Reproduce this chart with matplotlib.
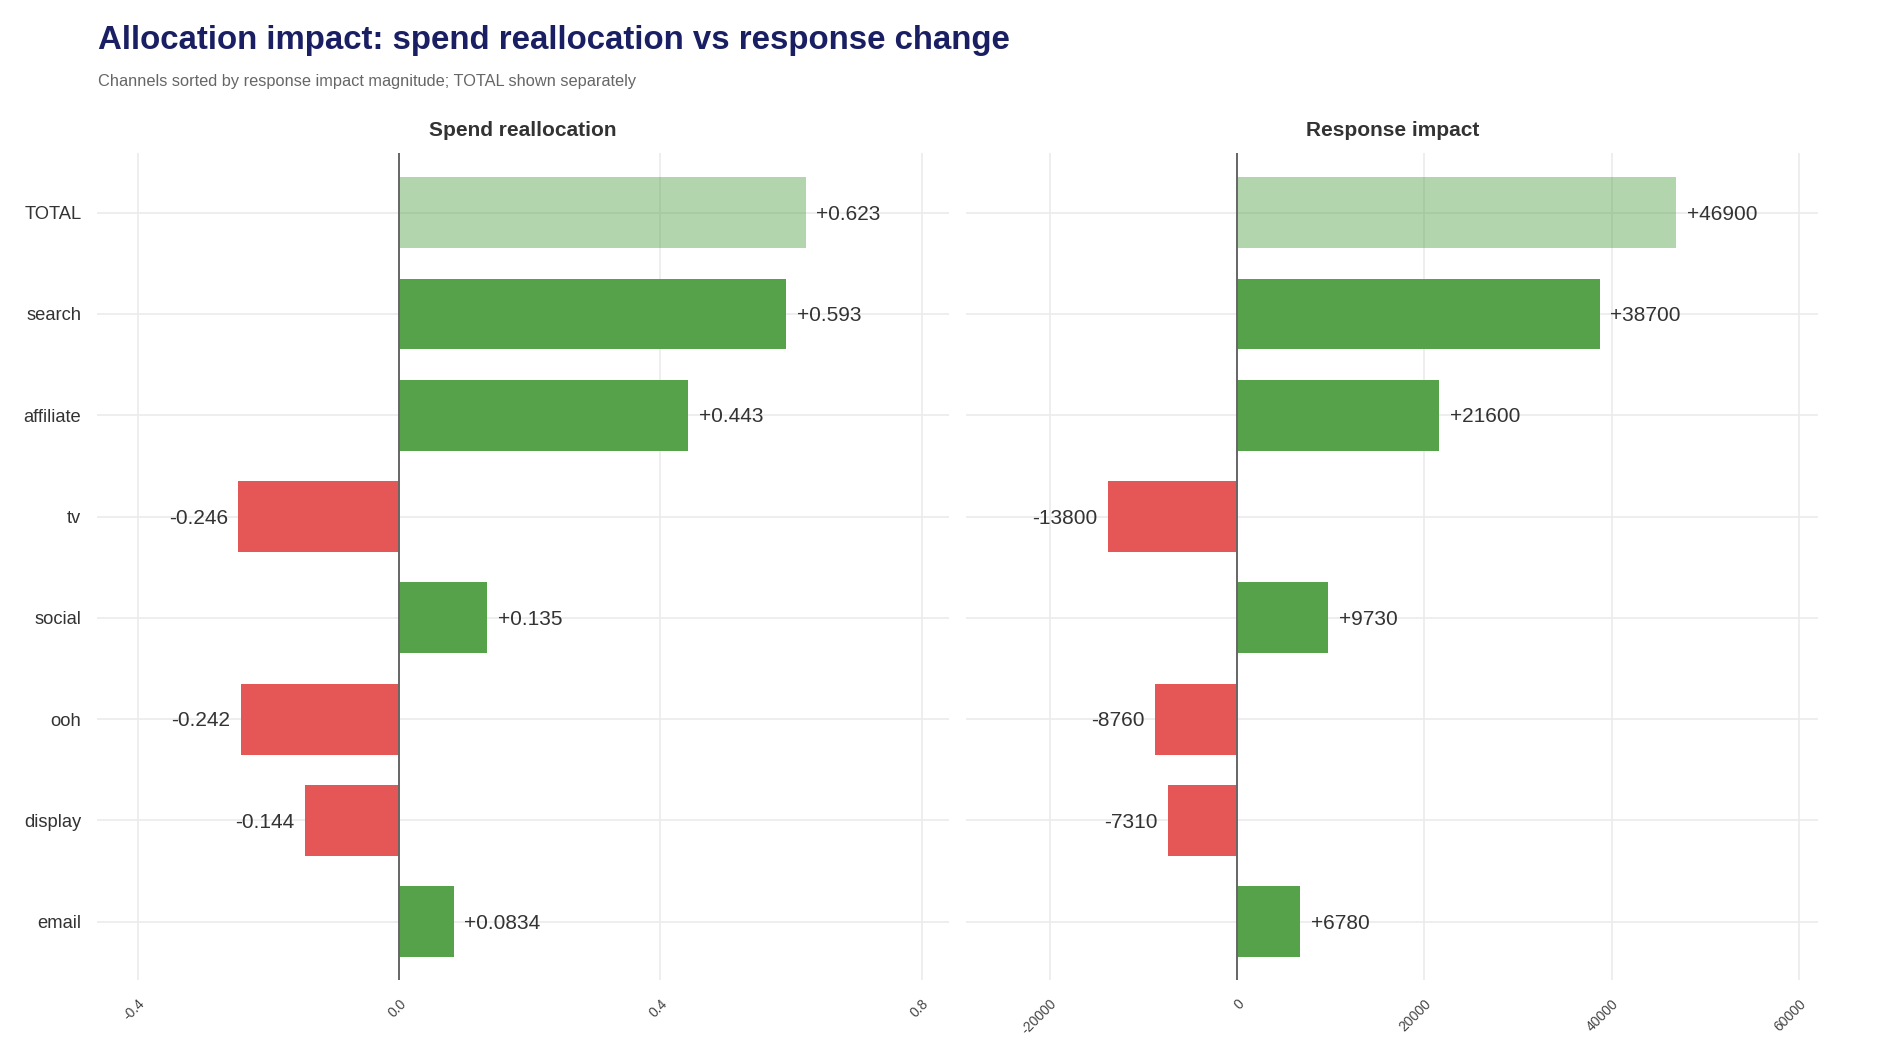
import numpy as np
import matplotlib
matplotlib.use('Agg')
import matplotlib.pyplot as plt

plt.rcParams['font.family'] = ['Liberation Sans', 'DejaVu Sans']

channels = ['TOTAL', 'search', 'affiliate', 'tv', 'social', 'ooh', 'display', 'email']
spend_change = [0.623, 0.593, 0.443, -0.246, 0.135, -0.242, -0.144, 0.0834]
response_change = [46900, 38700, 21600, -13800, 9730, -8760, -7310, 6780]

spend_ticks = [-0.4, 0.0, 0.4, 0.8]
spend_ticklabels = ['-0.4', '0.0', '0.4', '0.8']
resp_ticks = [-20000, 0, 20000, 40000, 60000]
resp_ticklabels = ['-20000', '0', '20000', '40000', '60000']

GREEN = '#55a24b'
RED = '#e45756'
GRID = '#ebebeb'

fig = plt.figure(figsize=(18.89, 10.62), dpi=100)
ax1 = fig.add_axes([0.0512, 0.0772, 0.4514, 0.779])
ax2 = fig.add_axes([0.5116, 0.0772, 0.451, 0.779])

y = np.arange(len(channels))


def panel(ax, values, fmt, ticks, ticklabels, xlim, title):
    colors = [GREEN if v >= 0 else RED for v in values]
    alphas = [0.45 if c == 'TOTAL' else 1.0 for c in channels]
    for yi, v, c, a in zip(y, values, colors, alphas):
        ax.barh(yi, v, height=0.7, color=c, alpha=a, zorder=2)
        lab = fmt(v)
        if v >= 0:
            ax.annotate(lab, (v, yi), xytext=(7.5, -1.2), textcoords='offset points',
                        ha='left', va='center', fontsize=15, color='#333333', zorder=4)
        else:
            ax.annotate(lab, (v, yi), xytext=(-7.5, -1.2), textcoords='offset points',
                        ha='right', va='center', fontsize=15, color='#333333', zorder=4)
    ax.axvline(0, color='#666666', lw=1.4, zorder=3)
    for yi in y:
        ax.axhline(yi, color=GRID, lw=1.2, zorder=0)
    for t in ticks:
        ax.axvline(t, color=GRID, lw=1.2, zorder=0)
    ax.set_xlim(*xlim)
    ax.set_ylim(len(channels) - 1 + 0.575, -0.592)
    ax.set_xticks(ticks)
    ax.set_xticklabels(ticklabels, rotation=45, ha='right', va='top',
                       rotation_mode='anchor', fontsize=10, color='#444444')
    ax.tick_params(axis='x', length=0, pad=12)
    ax.tick_params(axis='y', length=0, pad=11)
    for s in ax.spines.values():
        s.set_visible(False)
    ax.set_title(title, fontsize=15, fontweight='bold', color='#333333', pad=12)


panel(ax1, spend_change, lambda v: f'{v:+.3g}', spend_ticks, spend_ticklabels,
      (-0.4628, 0.8424), 'Spend reallocation')
panel(ax2, response_change, lambda v: f'{v:+.0f}', resp_ticks, resp_ticklabels,
      (-28882, 62060), 'Response impact')

ax1.set_yticks(y)
ax1.set_yticklabels(channels, fontsize=13.2, color='#333333')
ax2.set_yticks(y)
ax2.set_yticklabels([])

fig.text(0.0519, 0.9535, 'Allocation impact: spend reallocation vs response change',
         fontsize=23.8, fontweight='bold', color='#1a1f63', ha='left', va='baseline')
fig.text(0.0519, 0.9193, 'Channels sorted by response impact magnitude; TOTAL shown separately',
         fontsize=11.8, color='#666666', ha='left', va='baseline')

fig.savefig('out.png', dpi=100, facecolor='white')
